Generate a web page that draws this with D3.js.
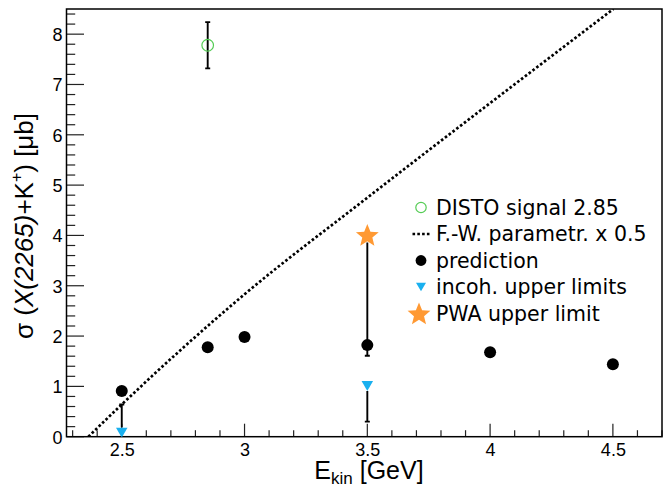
<!DOCTYPE html>
<html><head><meta charset="utf-8">
<script src="https://cdn.jsdelivr.net/npm/d3@7"></script>
<style>body{margin:0;background:#fff}</style>
</head><body>
<svg id="c" width="670" height="487"></svg>
<script>
// ---- data ----
const predE = [2.5, 2.85, 3.0, 3.5, 4.0, 4.5];
const predSigma = [0.91, 1.78, 1.98, 1.82, 1.68, 1.44];

const distoE = [2.85];
const distoSigma = [7.78];
const distoErr = [0.46];

const incohE = [2.5, 3.5];
const incohSigma = [0.08, 1.01];
const incohErrLow = [0, 0.71];
const incohErrHigh = [0.56, 0];

const pwaE = [3.5];
const pwaSigma = [4.01];
const pwaErrLow = [2.4];

const fwE = [2.364, 2.5, 3.0, 3.5, 4.0, 4.502];
const fwSigma = [0, 0.64, 2.83, 4.75, 6.63, 8.5];

const xTicks = [2.5, 3, 3.5, 4, 4.5];
const yTicks = [0, 1, 2, 3, 4, 5, 6, 7, 8];

const legendLabels = ["DISTO signal 2.85", "F.-W. parametr. x 0.5", "prediction", "incoh. upper limits", "PWA upper limit"];

// ---- layout ----
const L = 66.5, R = 662, T = 9, B = 436.7;
const svg = d3.select("#c");
const x = d3.scaleLinear().domain([2.275, 4.70]).range([L, R]);
const y = d3.scaleLinear().domain([0, 8.5]).range([B, T]);

const green = "#55cc55", cyan = "#1ab0ef", orange = "#ff9933";
const tickFont = "'Liberation Sans', Arial, sans-serif";

svg.append("rect").attr("width", 670).attr("height", 487).attr("fill", "#fff");

svg.append("clipPath").attr("id", "clip").append("rect")
  .attr("x", L).attr("y", T).attr("width", R - L).attr("height", B - T);

// minor / major ticks
const xMinor = d3.range(23, 48).map(d => d / 10).filter(d => d >= 2.275 && d <= 4.70);
const yMinor = d3.range(0, 43).map(d => d / 5).filter(d => d <= 8.5);

const gx = svg.append("g");
xMinor.forEach(v => {
  const major = Math.abs(v * 2 - Math.round(v * 2)) < 1e-6;
  gx.append("line").attr("x1", x(v)).attr("x2", x(v))
    .attr("y1", B).attr("y2", B - (major ? 13 : 6.5))
    .attr("stroke", "#222").attr("stroke-width", 1.2);
});
const gy = svg.append("g");
yMinor.forEach(v => {
  const major = Math.abs(v - Math.round(v)) < 1e-6;
  gy.append("line").attr("y1", y(v)).attr("y2", y(v))
    .attr("x1", L).attr("x2", L + (major ? 17.5 : 8.7))
    .attr("stroke", "#222").attr("stroke-width", 1.2);
});

// tick labels via axis generators
const axB = svg.append("g").attr("transform", `translate(0,${B})`)
  .call(d3.axisBottom(x).tickValues(xTicks).tickSize(0).tickPadding(0).tickFormat(d3.format("")));
axB.select(".domain").remove();
axB.selectAll("text").attr("font-family", tickFont).attr("font-size", 18).attr("fill", "#000")
  .attr("y", 19).attr("dy", 0);
const axL = svg.append("g").attr("transform", `translate(${L},0)`)
  .call(d3.axisLeft(y).tickValues(yTicks).tickSize(0).tickPadding(0).tickFormat(d3.format("d")));
axL.select(".domain").remove();
axL.selectAll("text").attr("font-family", tickFont).attr("font-size", 18).attr("fill", "#000")
  .attr("x", -4).attr("dy", "0.36em");

// frame
svg.append("rect").attr("x", L).attr("y", T).attr("width", R - L).attr("height", B - T)
  .attr("fill", "none").attr("stroke", "#000").attr("stroke-width", 1.5);

const plot = svg.append("g").attr("clip-path", "url(#clip)");

// F.-W. parametrization (dotted)
plot.append("path")
  .datum(fwE.map((e, i) => [e, fwSigma[i]]))
  .attr("d", d3.line().x(d => x(d[0])).y(d => y(d[1])).curve(d3.curveMonotoneX))
  .attr("fill", "none").attr("stroke", "#000").attr("stroke-width", 2.7)
  .attr("stroke-dasharray", "2.6 2.2");

function vbar(xv, y1, y2, capTop, capBot) {
  plot.append("line").attr("x1", x(xv)).attr("x2", x(xv)).attr("y1", y(y1)).attr("y2", y(y2))
    .attr("stroke", "#000").attr("stroke-width", 1.9);
  if (capTop) plot.append("line").attr("x1", x(xv) - 2.5).attr("x2", x(xv) + 2.5)
    .attr("y1", y(y1)).attr("y2", y(y1)).attr("stroke", "#000").attr("stroke-width", 1.9);
  if (capBot) plot.append("line").attr("x1", x(xv) - 2.5).attr("x2", x(xv) + 2.5)
    .attr("y1", y(y2)).attr("y2", y(y2)).attr("stroke", "#000").attr("stroke-width", 1.9);
}

distoE.forEach((e, i) => {
  vbar(e, distoSigma[i] + distoErr[i], distoSigma[i] - distoErr[i], true, true);
});
plot.selectAll(".disto").data(distoE).enter().append("circle")
  .attr("cx", d => x(d)).attr("cy", (d, i) => y(distoSigma[i])).attr("r", 5.8)
  .attr("fill", "none").attr("stroke", green).attr("stroke-width", 1.2);

incohE.forEach((e, i) => {
  if (incohErrHigh[i] > 0) vbar(e, incohSigma[i] + incohErrHigh[i], incohSigma[i] + 0.11, true, false);
  if (incohErrLow[i] > 0) vbar(e, incohSigma[i] - 0.1, incohSigma[i] - incohErrLow[i], false, true);
});
pwaE.forEach((e, i) => {
  vbar(e, pwaSigma[i] - 0.15, pwaSigma[i] - pwaErrLow[i], false, true);
});

plot.selectAll(".pred").data(predE).enter().append("circle")
  .attr("cx", d => x(d)).attr("cy", (d, i) => y(predSigma[i])).attr("r", 6).attr("fill", "#000");

const tri = (cx, cy, w) => {
  const h = w * 0.87;
  return `M${cx - w / 2},${cy - h / 2}L${cx + w / 2},${cy - h / 2}L${cx},${cy + h / 2}Z`;
};
plot.selectAll(".tri").data(incohE).enter().append("path")
  .attr("d", (d, i) => tri(x(d), y(incohSigma[i]), 11.5)).attr("fill", cyan);

const star = (cx, cy, ro, ri) => {
  let p = "";
  for (let k = 0; k < 10; k++) {
    const r = k % 2 === 0 ? ro : ri;
    const a = -Math.PI / 2 + k * Math.PI / 5;
    p += (k === 0 ? "M" : "L") + (cx + r * Math.cos(a)) + "," + (cy + r * Math.sin(a));
  }
  return p + "Z";
};
plot.selectAll(".star").data(pwaE).enter().append("path")
  .attr("d", (d, i) => star(x(d), y(pwaSigma[i]) + 1, 12, 5.3)).attr("fill", orange);

// legend
const lg = svg.append("g");
const lx = 421, ltx = 436, ly0 = 207.5, ldy = 26.5;
legendLabels.forEach((t, i) => {
  lg.append("text").attr("x", ltx).attr("y", ly0 + i * ldy).attr("dy", "0.36em")
    .attr("font-family", "'DejaVu Sans', sans-serif").attr("font-size", 20.5).attr("fill", "#000").text(t);
});
lg.append("circle").attr("cx", lx).attr("cy", ly0).attr("r", 5.2).attr("fill", "none")
  .attr("stroke", green).attr("stroke-width", 1.2);
lg.append("line").attr("x1", 412.5).attr("x2", 431).attr("y1", ly0 + ldy).attr("y2", ly0 + ldy)
  .attr("stroke", "#000").attr("stroke-width", 2.7).attr("stroke-dasharray", "2.6 2.2");
lg.append("circle").attr("cx", lx).attr("cy", ly0 + 2 * ldy).attr("r", 5.4).attr("fill", "#000");
lg.append("path").attr("d", tri(lx, ly0 + 3 * ldy, 10)).attr("fill", cyan);
lg.append("path").attr("d", star(lx - 2, ly0 + 4 * ldy + 1, 12, 5.3)).attr("fill", orange);

// axis titles
const xt = svg.append("text").attr("x", 369).attr("y", 479).attr("text-anchor", "middle")
  .attr("font-family", tickFont).attr("font-size", 25).attr("fill", "#000");
xt.append("tspan").text("E");
xt.append("tspan").attr("font-size", 17).attr("dy", 5).text("kin");
xt.append("tspan").attr("dy", -5).text(" [GeV]");

const yt = svg.append("text").attr("transform", "translate(33,226) rotate(-90)").attr("text-anchor", "middle")
  .attr("font-family", tickFont).attr("font-size", 26).attr("fill", "#000");
yt.append("tspan").text("σ (");
yt.append("tspan").attr("font-style", "italic").text("X(2265)");
yt.append("tspan").text("+K");
yt.append("tspan").attr("font-size", 16).attr("dy", -11).text("+");
yt.append("tspan").attr("dy", 11).text(") [μb]");
</script>
</body></html>
